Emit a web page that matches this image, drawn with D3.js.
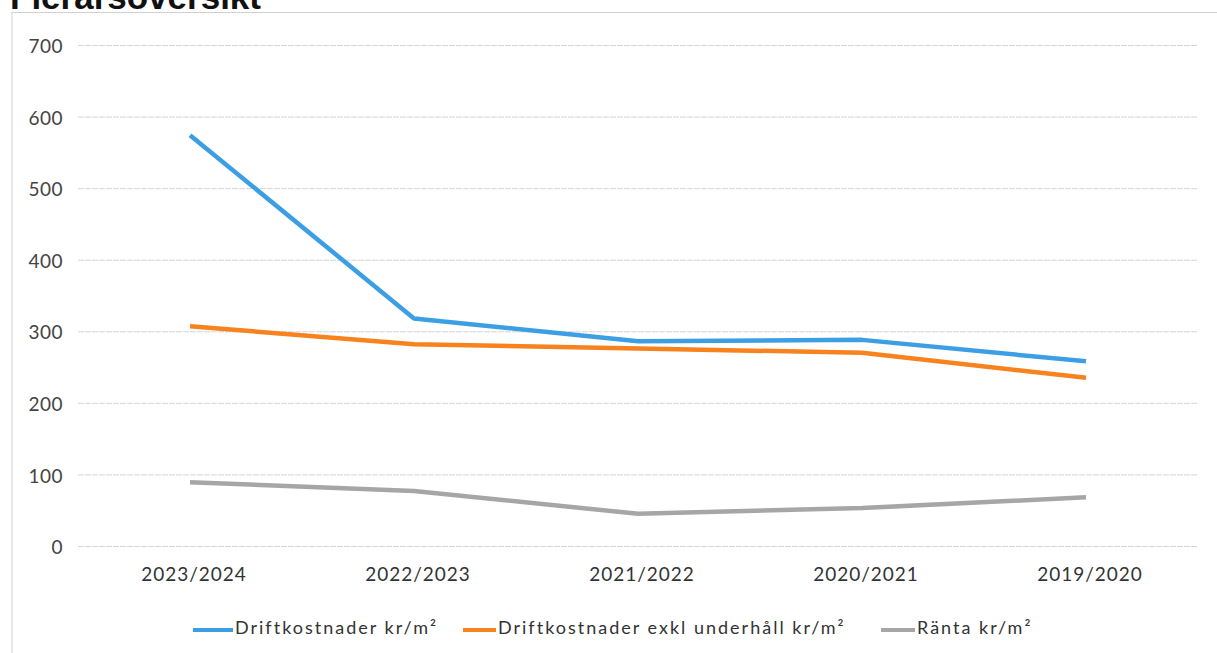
<!doctype html>
<html lang="sv">
<head>
  <meta charset="UTF-8">
  <title>Flerårsöversikt</title>
  <style>
    body { margin: 0; background: #fff; }
    svg { display: block; }
  </style>
</head>
<body>
<div class="container"></div>

<script src="https://d3js.org/d3.v7.min.js"></script>
<script>
  const categories = ['2023/2024', '2022/2023', '2021/2022', '2020/2021', '2019/2020'];
  const drift = [574, 318, 286, 288, 258];
  const driftExkl = [307, 282, 276, 270, 235];
  const ranta = [89, 77, 45, 53, 68];
  const yTicks = [0, 100, 200, 300, 400, 500, 600, 700];
  const seriesNames = ['Driftkostnader kr/m²', 'Driftkostnader exkl underhåll kr/m²', 'Ränta kr/m²'];

  const SVG_WIDTH = 1217;
  const SVG_HEIGHT = 653;
  const PLOT_LEFT = 78;
  const PLOT_RIGHT = 1198;
  const PLOT_TOP = 45;
  const PLOT_BOTTOM = 546;
  const LABEL_FONT = 'Lato, "Open Sans", sans-serif';

  const series = [
    { name: seriesNames[0], values: drift, color: '#3d9fe3' },
    { name: seriesNames[1], values: driftExkl, color: '#f7821e' },
    { name: seriesNames[2], values: ranta, color: '#a6a6a6' }
  ];

  const svg = d3.select('.container')
    .append('svg')
    .attr('width', SVG_WIDTH)
    .attr('height', SVG_HEIGHT);

  // title, cut by the top edge like in the scan
  svg.append('text')
    .attr('x', 10)
    .attr('y', 9)
    .style('font-family', '"Liberation Sans", Arial, sans-serif')
    .style('font-weight', 'bold')
    .style('font-size', '35px')
    .attr('fill', '#111')
    .text('Flerårsöversikt');

  // chart frame (top + left edge)
  svg.append('path')
    .attr('d', `M12,${SVG_HEIGHT} V12.5 H${SVG_WIDTH}`)
    .attr('fill', 'none')
    .attr('stroke', '#d0d0d0')
    .attr('stroke-width', 1);

  const x = d3.scaleBand()
    .domain(categories)
    .range([PLOT_LEFT, PLOT_RIGHT]);

  const y = d3.scaleLinear()
    .domain([0, 700])
    .range([PLOT_BOTTOM, PLOT_TOP]);

  // grid lines
  const yAxis = d3.axisLeft(y)
    .tickValues(yTicks)
    .tickSize(-(PLOT_RIGHT - PLOT_LEFT))
    .tickPadding(15);

  const yAxisGroup = svg.append('g')
    .attr('transform', `translate(${PLOT_LEFT}, 0)`)
    .call(yAxis);
  yAxisGroup.select('.domain').remove();
  yAxisGroup.selectAll('line')
    .attr('stroke', '#d4d4d4')
    .attr('stroke-dasharray', '6,1');
  yAxisGroup.selectAll('text')
    .attr('fill', '#444')
    .attr('dy', '0.4em')
    .style('font-family', LABEL_FONT)
    .style('font-size', '19px')
    .style('letter-spacing', '0.5px');

  const xAxis = d3.axisBottom(x).tickSize(0).tickPadding(22);
  const xAxisGroup = svg.append('g')
    .attr('transform', `translate(0, ${PLOT_BOTTOM})`)
    .call(xAxis);
  xAxisGroup.select('.domain').remove();
  xAxisGroup.selectAll('text')
    .attr('fill', '#333')
    .attr('dx', 4)
    .style('font-family', LABEL_FONT)
    .style('font-size', '19px')
    .style('letter-spacing', '1px');

  // lines
  const line = d3.line()
    .x((d, i) => x(categories[i]) + x.bandwidth() / 2)
    .y(d => y(d));

  svg.selectAll('.series')
    .data(series)
    .enter().append('path')
    .attr('class', 'series')
    .attr('d', d => line(d.values))
    .attr('fill', 'none')
    .attr('stroke', d => d.color)
    .attr('stroke-width', 4.5)
    .attr('stroke-linejoin', 'round');

  // legend
  const legendItems = [
    { x: 193, len: 40 },
    { x: 463, len: 33 },
    { x: 881, len: 34 }
  ];
  const LEGEND_Y = 630;
  const legend = svg.selectAll('.legend')
    .data(series)
    .enter().append('g')
    .attr('class', 'legend')
    .attr('transform', (d, i) => `translate(${legendItems[i].x}, ${LEGEND_Y})`);

  legend.append('line')
    .attr('x1', 0)
    .attr('x2', (d, i) => legendItems[i].len)
    .attr('stroke', d => d.color)
    .attr('stroke-width', 4);

  legend.append('text')
    .attr('x', (d, i) => legendItems[i].len + 2)
    .attr('dy', '0.2em')
    .attr('fill', '#333')
    .style('font-family', LABEL_FONT)
    .style('font-size', '18px')
    .style('letter-spacing', '2px')
    .text(d => d.name);
</script>
</body>
</html>
